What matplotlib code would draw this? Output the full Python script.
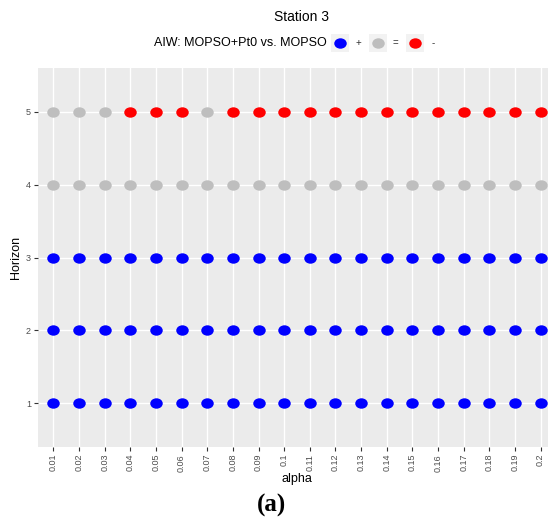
import numpy as np
import matplotlib
matplotlib.use("Agg")
import matplotlib.pyplot as plt
from matplotlib.path import Path
from matplotlib.lines import Line2D
from matplotlib.patches import Rectangle

# data
alpha = ["0.01", "0.02", "0.03", "0.04", "0.05", "0.06", "0.07", "0.08", "0.09", "0.1",
         "0.11", "0.12", "0.13", "0.14", "0.15", "0.16", "0.17", "0.18", "0.19", "0.2"]
horizons = [1, 2, 3, 4, 5]
# result per horizon: "+", "=", "-"
h1 = ["+"] * 20
h2 = ["+"] * 20
h3 = ["+"] * 20
h4 = ["="] * 20
h5 = ["=", "=", "=", "-", "-", "-", "=", "-", "-", "-",
      "-", "-", "-", "-", "-", "-", "-", "-", "-", "-"]
results = [h1, h2, h3, h4, h5]

levels = ["+", "=", "-"]
colors = {"+": "#0000FF", "=": "#BEBEBE", "-": "#FF0000"}
legend_labels = {"+": "+", "=": "=", "-": "-"}

plt.rcParams["font.family"] = ["Liberation Sans", "DejaVu Sans"]

# slightly wide ellipse, like the stretched original
circ = Path.unit_circle()
ellipse = Path(circ.vertices * np.array([1.2, 1.0]), circ.codes)
msize = 9

fig = plt.figure(figsize=(5.48, 5.22), dpi=100)
ax = fig.add_axes([38 / 548, 75 / 522, 518 / 548, 379 / 522])
ax.set_facecolor("#EBEBEB")

x = np.arange(len(alpha))
for h, res in zip(horizons, results):
    for lv in levels:
        idx = [i for i, r in enumerate(res) if r == lv]
        if idx:
            ax.plot(x[idx], [h] * len(idx), linestyle="none", marker=ellipse,
                    markersize=msize, color=colors[lv], markeredgewidth=0, zorder=3)

ax.set_xlim(-0.6, 19.6)
ax.set_ylim(0.4, 5.6)
ax.set_xticks(x)
ax.set_xticklabels(alpha, rotation=90)
ax.set_yticks(horizons)
ax.grid(True, color="white", linewidth=1.0)
ax.set_axisbelow(True)
for s in ax.spines.values():
    s.set_visible(False)
ax.tick_params(colors="#333333", labelcolor="#4D4D4D", labelsize=6.5, length=3,
               width=0.8, pad=2)
ax.set_xlabel("alpha", fontsize=9, labelpad=1)
ax.set_ylabel("Horizon", fontsize=9, labelpad=3)

fig.text(302 / 548, 1 - 17 / 522, "Station 3", ha="center", va="center", fontsize=10)

# legend drawn by hand: title on the left, keys in a row
ly = 1 - 43 / 522
fig.text(327 / 548, ly, "AIW: MOPSO+Pt0 vs. MOPSO", ha="right", va="center", fontsize=9)
for k, lv in enumerate(levels):
    cx = 340 + k * 37.5
    fig.add_artist(Rectangle(((cx - 9) / 548, ly - 9 / 522), 18 / 548, 18 / 522,
                             transform=fig.transFigure, facecolor="#F2F2F2",
                             edgecolor="none"))
    fig.add_artist(Line2D([cx / 548], [ly], transform=fig.transFigure, marker=ellipse,
                          markersize=msize, color=colors[lv], markeredgewidth=0,
                          linestyle="none"))
    fig.text((cx + 18) / 548, ly, legend_labels[lv], ha="center", va="center",
             fontsize=7, color="#333333")

fig.text(272 / 548, 1 - 505 / 522, "(a)", ha="center", va="center", fontsize=18,
         family=["Liberation Serif"], weight="bold")

fig.savefig("out.png", dpi=100)
